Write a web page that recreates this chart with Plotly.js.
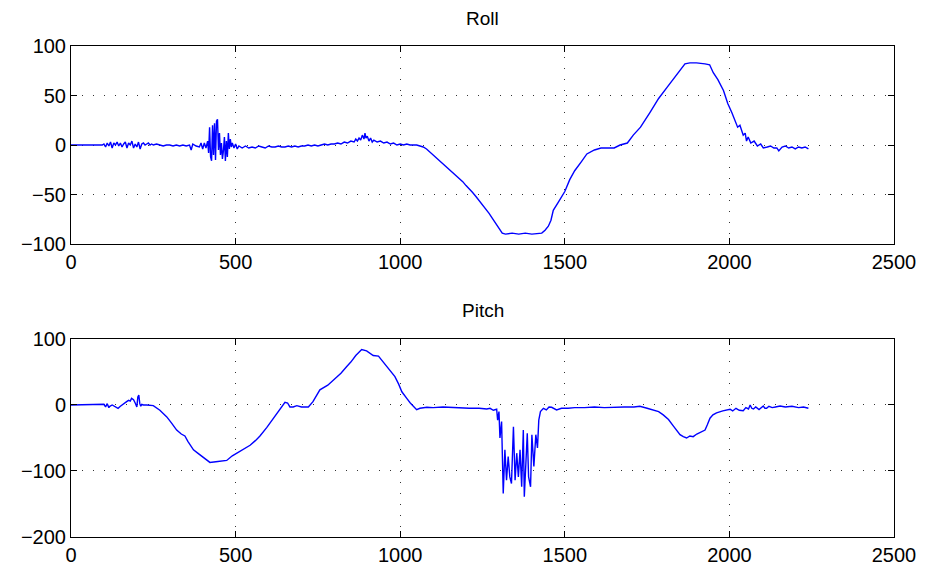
<!DOCTYPE html>
<html>
<head>
<meta charset="utf-8">
<script src="https://cdn.plot.ly/plotly-3.0.1.min.js"></script>
<style>html,body{margin:0;padding:0;background:#fff;}#chart{width:925px;height:575px;}</style>
</head>
<body>
<div id="chart"></div>
<script>
// Roll series (sample index vs degrees)
const rollX = [0,95,
100,105,110,115,120,125,130,135,140,145,150,155,160,165,170,175,180,185,190,195,200,205,210,215,220,225,230,235,240,245,250,
260,270,280,290,300,310,320,330,340,350,360,365,370,380,390,395,400,
405,410,415,418,421,424,427,430,433,436,439,442,445,448,451,454,457,460,463,466,469,472,475,478,481,484,487,490,495,500,505,510,
520,530,540,550,560,570,580,590,600,610,620,630,640,650,660,670,680,690,700,710,720,730,740,750,760,770,780,790,800,
810,820,830,840,850,860,865,870,875,880,885,890,893,896,900,905,910,915,920,930,940,950,960,970,980,990,1000,1010,1020,1030,1040,1050,1060,1070,
1080,1090,1100,1110,1120,1130,1140,1150,1160,1170,1180,1190,1200,1210,1220,1230,1240,1250,1260,1270,1280,1290,1300,1310,1320,1340,1360,1380,1400,1420,
1430,1440,1450,1458,1465,1480,1500,1515,1530,1550,1567,1590,1610,1627,1650,1668,1690,1708,1730,1759,1785,1810,1830,1850,1865,1880,1900,1926,1940,1951,1965,1982,1995,2007,2015,2020,2025,2032,2038,2042,2048,2052,2057,2065,2075,2085,2095,2103,2115,2125,2135,2144,2150,2160,2170,2180,2190,2200,2210,2220,2230,2240];
const rollY = [0,0,
1,-2,2,-1,3,-3,2,0,3,-1,2,-2,1,3,-3,2,0,4,-3,1,-2,3,-4,1,2,0,1,2,0,1,0,
1,0,-1,0,0,-1,0,-1,0,-1,0,-5,1,-1,-2,2,-4,
2,-3,4,-8,18,-12,-16,20,-10,22,-15,24,26,-5,12,-10,2,-14,-6,8,-16,4,-12,12,-4,6,-2,2,-3,1,-4,-1,
-3,-1,-3,-2,-3,-1,-2,-3,-1,-2,-2,-1,-2,-2,-1,-2,-1,-2,-1,-1,0,-1,0,-1,0,1,0,1,1,
2,1,3,2,4,3,6,4,7,5,10,6,12,7,9,4,7,3,5,3,4,2,3,1,2,0,1,0,1,0,0,0,-1,-2,
-4,-7,-9,-13,-15,-19,-22,-25,-27,-31,-33,-37,-41,-44,-48,-52,-56,-60,-65,-69,-74,-79,-84,-89,-90,-89,-90,-89,-90,-89,-89,
-86,-82,-76,-66,-58,-47,-35,-26,-17,-9,-5,-3,-3,-3,0,2,10,18,33,47,58,67,75,82,83,83,82,81,73,66,55,42,33,27,23,18,20,14,10,12,4,8,2,4,-1,1,-3,-2,-1,-3,-3,-6,-2,-1,-3,-2,-4,-2,-3,-2,-4,-3];

// Pitch series
const pitchX = [0,95,100,105,110,115,118,125,135,143,150,160,169,175,180,184,190,195,200,203,206,209,212,215,220,230,240,250,
270,291,305,321,335,346,355,362,372,385,400,422,440,460,473,490,503,520,544,560,574,595,615,632,650,658,665,675,686,700,721,
735,756,780,802,820,837,850,865,883,898,910,918,934,950,964,984,995,1005,1020,1030,1050,1060,1081,1100,1130,1160,1182,1210,1240,1263,1273,1283,1293,
1296,1300,1303,1308,1313,1318,1323,1328,1333,1338,1344,1349,1354,1359,1364,1369,1374,1377,1382,1386,1390,1396,1400,1406,1412,1417,1421,1426,
1435,1444,1452,1460,1475,1490,1510,1530,1560,1590,1620,1650,1680,1710,1728,1750,1769,1785,1799,1815,1830,1840,1850,1860,1870,1880,1890,1901,1910,1926,1933,1941,1950,1961,1980,
2002,2010,2020,2030,2042,2050,2058,2063,2068,2073,2080,2090,2103,2108,2113,2120,2130,2140,2154,2170,2190,2210,2225,2240];
const pitchY = [0,0,1,-3,2,-4,-2,0,-3,-5,-2,1,5,7,6,10,8,3,-3,12,15,2,-2,1,0,0,-1,-1,
-8,-18,-27,-38,-44,-47,-55,-60,-68,-73,-79,-87,-86,-85,-84,-77,-73,-68,-61,-54,-47,-34,-20,-8,4,3,-3,-3,-1,-3,-3,
5,23,30,40,48,58,65,75,84,82,77,75,74,64,54,43,32,20,10,3.5,-7,-5,-3.5,-4,-3,-4,-4,-5,-5,-6,-5,-8,-6.5,
-23,-10,-50,-25,-134,-68,-114,-78,-109,-119,-33,-114,-73,-109,-68,-124,-38,-139,-83,-43,-109,-124,-45,-93,-45,-65,-23,-10,
-5,-7.5,-3,-3.5,-7.5,-5,-5,-4,-4,-3,-4,-3,-3,-3,-2,-5,-7.5,-10,-15,-22,-32,-38,-45,-48,-50,-47,-48,-44,-42,-38,-30,-20,-15,-12,-9,
-6.5,-9,-5,-8,-8.6,-4,-6,0,-5,-6,-3,-7,-1.5,-5,-5,-2,-4,-3,-1.5,-3,-2,-4,-3,-5];

const xTicks = [0,500,1000,1500,2000,2500];
const rollTicks = [-100,-50,0,50,100];
const pitchTicks = [-200,-100,0,100];

const font = {family: 'Liberation Sans, Arial, Helvetica, sans-serif', size: 20, color: '#000'};

function xAxis(anchor) {
  return {
    range: [0, 2500], tickvals: xTicks, ticktext: xTicks.map(String),
    showline: true, linecolor: '#000', linewidth: 1, mirror: 'allticks',
    ticks: 'inside', ticklen: 6, tickcolor: '#000', tickwidth: 1,
    showgrid: true, gridcolor: '#333', gridwidth: 1, griddash: '1px,10px',
    zeroline: false, anchor: anchor, tickfont: font
  };
}
function yAxis(anchor, domain, range, ticks) {
  return {
    domain: domain, range: range, tickvals: ticks, ticktext: ticks.map(v => v < 0 ? '\u2212' + Math.abs(v) : String(v)),
    showline: true, linecolor: '#000', linewidth: 1, mirror: 'allticks',
    ticks: 'inside', ticklen: 6, tickcolor: '#000', tickwidth: 1,
    showgrid: true, gridcolor: '#333', gridwidth: 1, griddash: '1px,10px',
    zeroline: false, anchor: anchor, tickfont: font
  };
}

const data = [
  {x: rollX, y: rollY, type: 'scatter', mode: 'lines', line: {color: '#0000ff', width: 1.4}, xaxis: 'x', yaxis: 'y', hoverinfo: 'skip'},
  {x: pitchX, y: pitchY, type: 'scatter', mode: 'lines', line: {color: '#0000ff', width: 1.4}, xaxis: 'x2', yaxis: 'y2', hoverinfo: 'skip'}
];

const layout = {
  width: 925, height: 575,
  margin: {l: 71, r: 31, t: 46, b: 38},
  paper_bgcolor: '#fff', plot_bgcolor: '#fff',
  showlegend: false,
  font: font,
  xaxis: xAxis('y'),
  yaxis: yAxis('x', [0.5967, 1], [-100, 100], rollTicks),
  xaxis2: xAxis('y2'),
  yaxis2: yAxis('x2', [0, 0.4033], [-200, 100], pitchTicks),
  annotations: [
    {text: 'Roll', xref: 'paper', yref: 'paper', x: 0.5, y: 1.057, xanchor: 'center', yanchor: 'middle', showarrow: false, font: {family: font.family, size: 19, color: '#000'}},
    {text: 'Pitch', xref: 'paper', yref: 'paper', x: 0.5, y: 0.4603, xanchor: 'center', yanchor: 'middle', showarrow: false, font: {family: font.family, size: 19, color: '#000'}}
  ]
};

Plotly.newPlot('chart', data, layout, {staticPlot: true, displayModeBar: false});
</script>
</body>
</html>
